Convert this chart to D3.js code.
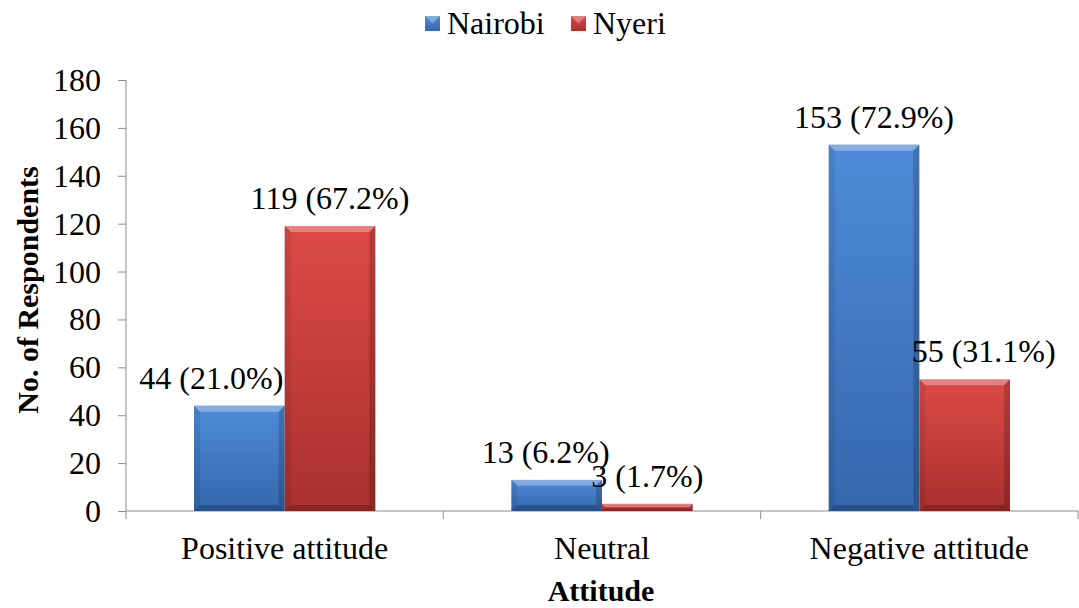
<!DOCTYPE html>
<html>
<head>
    <meta charset="UTF-8">
    <script src="https://d3js.org/d3.v7.min.js"></script>
</head>
<body style="margin:0">
    <svg id="chart" width="1079" height="608"></svg>
    <script>
        // data
        var categories = ["Positive attitude", "Neutral", "Negative attitude"];
        var seriesNames = ["Nairobi", "Nyeri"];
        var nairobi = [44, 13, 153];
        var nyeri = [119, 3, 55];
        var nairobiPct = ["21.0%", "6.2%", "72.9%"];
        var nyeriPct = ["67.2%", "1.7%", "31.1%"];
        var yTicks = [0, 20, 40, 60, 80, 100, 120, 140, 160, 180];

        // a few labels sit off-centre in the original
        var labelShift = [[-28, -11, 0], [0, 0, 19]];

        var FONT = "Liberation Serif";

        var svg = d3.select("#chart"),
            margin = {top: 80, left: 126, right: 1, bottom: 97},
            width = +svg.attr("width") - margin.left - margin.right,
            height = +svg.attr("height") - margin.top - margin.bottom;

        // all text goes straight onto the svg root
        function label(x, y, str, anchor, bold, size) {
            return svg.append("text")
                .attr("x", x).attr("y", y)
                .attr("text-anchor", anchor || "start")
                .attr("font-family", FONT)
                .style("font-family", FONT)
                .style("font-size", (size || 32) + "px")
                .style("font-weight", bold ? "bold" : "normal")
                .text(str);
        }

        var defs = svg.append("defs");
        var palette = [
            {id: "gBlue", top: "#4f8bd9", bottom: "#3567ab"},
            {id: "gRed", top: "#dd4a47", bottom: "#a8302e"}
        ];
        palette.forEach(function (p) {
            var lg = defs.append("linearGradient")
                .attr("id", p.id)
                .attr("x1", 0).attr("y1", 0).attr("x2", 0).attr("y2", 1);
            lg.append("stop").attr("offset", "0%").attr("stop-color", p.top);
            lg.append("stop").attr("offset", "100%").attr("stop-color", p.bottom);
        });

        var g = svg.append("g")
            .attr("transform", "translate(" + margin.left + "," + margin.top + ")");

        // gap width 150% of a bar: 2 bars + 1.5 bar gap per category
        var x0 = d3.scaleBand().domain(categories).range([0, width]);
        var gap = x0.bandwidth() * 0.75 / 3.5;
        var x1 = d3.scaleBand().domain(seriesNames)
            .range([gap, x0.bandwidth() - gap]);
        var y = d3.scaleLinear().domain([0, 180]).range([height, 0]);

        // y axis (lines from d3, labels drawn on the root)
        var yAxis = g.append("g")
            .call(d3.axisLeft(y).tickValues(yTicks).tickSize(8).tickFormat(""));
        yAxis.selectAll("path, line").attr("stroke", "#8c8c8c");
        yAxis.select(".domain").attr("d", "M0," + height + "V0");
        yTicks.forEach(function (t) {
            label(margin.left - 25, margin.top + y(t) + 11, t, "end");
        });

        // x axis with ticks between categories
        var xa = g.append("g").attr("transform", "translate(0," + height + ")");
        xa.append("line").attr("x1", 0).attr("x2", width).attr("stroke", "#8c8c8c");
        xa.selectAll(".tk")
            .data(categories.concat(["end"]))
            .enter().append("line")
            .attr("class", "tk")
            .attr("x1", function (d, i) { return i * x0.step(); })
            .attr("x2", function (d, i) { return i * x0.step(); })
            .attr("y1", 0).attr("y2", 8)
            .attr("stroke", "#8c8c8c");
        categories.forEach(function (c) {
            label(margin.left + x0(c) + x0.bandwidth() / 2, margin.top + height + 48, c, "middle");
        });

        // bars
        var series = [nairobi, nyeri];
        var pcts = [nairobiPct, nyeriPct];
        series.forEach(function (vals, s) {
            var bars = g.append("g").selectAll("g")
                .data(vals)
                .enter().append("g");
            bars.each(function (v, i) {
                var bx = x0(categories[i]) + x1(seriesNames[s]),
                    bw = x1.bandwidth(),
                    top = y(v),
                    bot = y(0),
                    b = Math.min(6, (bot - top) / 2),
                    el = d3.select(this);
                el.append("rect")
                    .attr("x", bx).attr("y", top)
                    .attr("width", bw).attr("height", bot - top)
                    .attr("fill", "url(#" + palette[s].id + ")");
                var bevel = [
                    {p: [[bx, top], [bx + bw, top], [bx + bw - b, top + b], [bx + b, top + b]], c: "#fff", o: 0.3},
                    {p: [[bx, top], [bx + b, top + b], [bx + b, bot - b], [bx, bot]], c: "#000", o: 0.08},
                    {p: [[bx + bw, top], [bx + bw - b, top + b], [bx + bw - b, bot - b], [bx + bw, bot]], c: "#000", o: 0.18},
                    {p: [[bx, bot], [bx + b, bot - b], [bx + bw - b, bot - b], [bx + bw, bot]], c: "#000", o: 0.22}
                ];
                bevel.forEach(function (f) {
                    el.append("polygon")
                        .attr("points", f.p.map(function (q) { return q.join(","); }).join(" "))
                        .attr("fill", f.c).attr("fill-opacity", f.o);
                });
            });
        });

        // value labels, after the bars so they sit on top
        series.forEach(function (vals, s) {
            vals.forEach(function (v, i) {
                var cx = margin.left + x0(categories[i]) + x1(seriesNames[s]) + x1.bandwidth() / 2;
                label(cx + labelShift[s][i], margin.top + y(v) - 17, v + " (" + pcts[s][i] + ")", "middle");
            });
        });

        // axis titles
        label(margin.left + width / 2 - 1, 601, "Attitude", "middle", true, 30);
        label(0, 0, "No. of Respondents", "middle", true, 30)
            .attr("transform", "translate(38,290) rotate(-90)");

        // legend
        var legendX = [425, 571];
        seriesNames.forEach(function (name, s) {
            var lx = legendX[s], size = 15, ly = 16;
            svg.append("rect")
                .attr("x", lx).attr("y", ly)
                .attr("width", size).attr("height", size)
                .attr("fill", "url(#" + palette[s].id + ")");
            svg.append("polygon")
                .attr("points", [[lx, ly], [lx + size, ly], [lx + size / 2, ly + size / 2]].map(function (q) { return q.join(","); }).join(" "))
                .attr("fill", "#fff").attr("fill-opacity", 0.3);
            label(lx + size + 7, 34, name);
        });
    </script>
</body>
</html>
